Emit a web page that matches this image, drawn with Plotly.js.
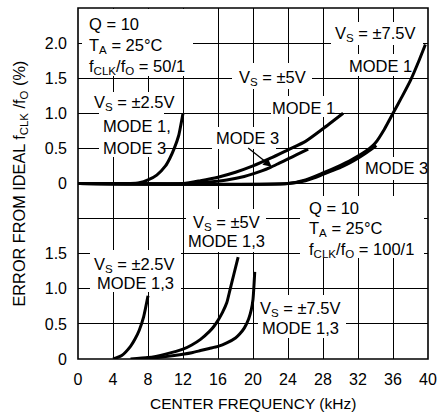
<!DOCTYPE html>
<html>
<head>
<meta charset="utf-8">
<script src="https://cdn.plot.ly/plotly-3.0.1.min.js"></script>
<style>
  html, body { margin: 0; padding: 0; background: #fff; }
  #chart { width: 439px; height: 417px; }
</style>
</head>
<body>
<div id="chart"></div>
<script>
// ---------- Data ----------
// Upper panel: fCLK/fO = 50/1, error (%) vs center frequency (kHz)
const vs25_50_x = [0, 6, 7, 8, 9, 10, 10.5, 11, 11.5, 12];
const vs25_50_y = [0, 0, 0.01, 0.05, 0.12, 0.25, 0.36, 0.5, 0.68, 1.0];

const vs5_m1_50_x = [0, 12, 14, 16, 18, 20, 22, 24, 26, 28, 30.3];
const vs5_m1_50_y = [0, 0, 0.04, 0.09, 0.16, 0.25, 0.36, 0.48, 0.6, 0.78, 1.0];

const vs5_m3_50_x = [0, 13, 15, 17, 19, 21, 22, 23, 24, 25, 26.3];
const vs5_m3_50_y = [0, 0, 0.02, 0.05, 0.1, 0.18, 0.23, 0.29, 0.35, 0.41, 0.49];

const vs75_m1_50_x = [0, 24, 26, 28, 30, 31, 32, 33, 34, 35, 36, 37, 38, 39, 39.7];
const vs75_m1_50_y = [0, 0, 0.05, 0.15, 0.26, 0.32, 0.39, 0.47, 0.58, 0.77, 1.0, 1.23, 1.47, 1.76, 1.98];

const vs75_m3_50_x = [0, 24, 26, 27, 28, 29, 30, 31, 32, 33, 34.1];
const vs75_m3_50_y = [0, 0, 0.04, 0.08, 0.13, 0.18, 0.23, 0.29, 0.36, 0.44, 0.54];

// Lower panel: fCLK/fO = 100/1
const vs25_100_x = [4, 5, 6, 6.5, 7, 7.5, 8];
const vs25_100_y = [0, 0.05, 0.18, 0.28, 0.41, 0.6, 0.9];

const vs5_100_x = [6, 8, 10, 12, 13, 14, 15, 15.5, 16, 16.5, 17, 17.4, 17.8, 18.3];
const vs5_100_y = [0, 0.02, 0.07, 0.14, 0.2, 0.28, 0.39, 0.46, 0.55, 0.66, 0.8, 1.0, 1.2, 1.45];

const vs75_100_x = [7, 9, 11, 13, 14, 15, 16, 17, 18, 18.5, 19, 19.5, 19.8, 20, 20.2];
const vs75_100_y = [0, 0.02, 0.05, 0.09, 0.12, 0.15, 0.18, 0.23, 0.3, 0.36, 0.44, 0.57, 0.7, 0.85, 1.24];

// Tick labels
const xTickVals = [0, 4, 8, 12, 16, 20, 24, 28, 32, 36, 40];
const xTickText = ['0', '4', '8', '12', '16', '20', '24', '28', '32', '36', '40'];
const yTickVals = [0, 0.5, 1, 1.5, 2, 2.5];
const yTopTickText = ['0', '0.5', '1.0', '1.5', '2.0', '2.5'];
const yBotTickText = ['0', '0.5', '1.0', '1.5', '', ''];

// ---------- Layout geometry ----------
const W = 439, H = 417;
const mL = 78, mR = 11, mT = 8, mB = 58;
const plotW = W - mL - mR;           // 350
const plotH = H - mT - mB;           // 351
const unit = plotH / 5;              // px per 1 % on y (70.2)
const ext = 3;                       // px of room below the upper panel's zero
const e = ext / unit;

// pixel helpers (for text placement only)
const X = px => (px - mL) / plotW * 40;
const zeroTop = mT + 2.5 * unit;          // 183.5
const zeroBot = mT + plotH;               // 359
const YT = py => (zeroTop - py) / unit;
const YB = py => (zeroBot - py) / unit;

const FAM = 'Liberation Sans, Arial, Helvetica, sans-serif';
const textFont = { family: FAM, size: 16.5, color: '#000' };
const tickFont = { family: FAM, size: 16, color: '#000' };

const lineStyle = { color: '#000', width: 3, shape: 'spline', smoothing: 0.6 };
function tr(x, y, yaxis) {
  return { x: x, y: y, xaxis: 'x', yaxis: yaxis, type: 'scatter', mode: 'lines',
           line: lineStyle, hoverinfo: 'skip', showlegend: false };
}

const data = [
  tr(vs25_50_x, vs25_50_y, 'y2'),
  tr(vs5_m1_50_x, vs5_m1_50_y, 'y2'),
  tr(vs5_m3_50_x, vs5_m3_50_y, 'y2'),
  tr(vs75_m1_50_x, vs75_m1_50_y, 'y2'),
  tr(vs75_m3_50_x, vs75_m3_50_y, 'y2'),
  tr(vs25_100_x, vs25_100_y, 'y'),
  tr(vs5_100_x, vs5_100_y, 'y'),
  tr(vs75_100_x, vs75_100_y, 'y')
];

// white masks behind the labels (hide the grid there), in pixel boxes; kept clear of the curves
function maskT(x0, x1, y0, y1) {
  return { type: 'rect', xref: 'x', yref: 'y2', x0: X(x0), x1: X(x1), y0: YT(y1), y1: YT(y0),
           fillcolor: '#fff', line: { width: 0 }, layer: 'above' };
}
function maskB(x0, x1, y0, y1) {
  return { type: 'rect', xref: 'x', yref: 'y', x0: X(x0), x1: X(x1), y0: YB(y1), y1: YB(y0),
           fillcolor: '#fff', line: { width: 0 }, layer: 'above' };
}
const shapes = [
  maskT(82, 193, 9, 76),
  maskT(88, 178, 92, 113),
  maskT(99, 164, 113, 157),
  maskT(232, 312, 63, 89),
  maskT(271, 334, 96, 117),
  maskT(212, 276, 127, 149),
  maskT(331, 423, 22, 45),
  maskT(348, 409, 54, 76),
  maskT(365, 426.5, 157, 180),
  maskB(90, 181, 250, 292),
  maskB(186, 266, 209, 252),
  maskB(300, 424, 196, 258),
  maskB(258, 346, 295, 338),
  // frame
  { type: 'rect', xref: 'paper', yref: 'paper', x0: 0, x1: 1, y0: 0, y1: 1,
    line: { color: '#000', width: 1.6 }, fillcolor: 'rgba(0,0,0,0)', layer: 'above' }
];

function lab(text, px, py, anchor, panel) {
  return { text: text, x: X(px), y: panel === 'top' ? YT(py) : YB(py),
           xref: 'x', yref: panel === 'top' ? 'y2' : 'y',
           xanchor: anchor, yanchor: 'middle', showarrow: false, font: textFont, borderpad: 0 };
}

const annotations = [
  lab('Q = 10', 88, 23.6, 'left', 'top'),
  lab('T<sub>A</sub> = 25°C', 88, 45.5, 'left', 'top'),
  lab('f<sub>CLK</sub>/f<sub>O</sub> = 50/1', 88, 66.5, 'left', 'top'),
  lab('V<sub>S</sub> = ±2.5V', 134, 103.1, 'center', 'top'),
  lab('MODE 1,', 101.7, 126, 'left', 'top'),
  lab('MODE 3', 101.7, 148.3, 'left', 'top'),
  lab('V<sub>S</sub> = ±5V', 272, 77.5, 'center', 'top'),
  lab('MODE 1', 303, 108.3, 'center', 'top'),
  lab('MODE 3', 215, 137.6, 'left', 'top'),
  lab('V<sub>S</sub> = ±7.5V', 375, 34.1, 'center', 'top'),
  lab('MODE 1', 380, 66, 'center', 'top'),
  lab('MODE 3', 396, 168.3, 'center', 'top'),
  lab('V<sub>S</sub> = ±2.5V', 134, 265.1, 'center', 'bot'),
  lab('MODE 1,3', 135, 282.6, 'center', 'bot'),
  lab('V<sub>S</sub> = ±5V', 226.7, 222.5, 'center', 'bot'),
  lab('MODE 1,3', 226.7, 241, 'center', 'bot'),
  lab('Q = 10', 308.3, 207.6, 'left', 'bot'),
  lab('T<sub>A</sub> = 25°C', 308.3, 229.1, 'left', 'bot'),
  lab('f<sub>CLK</sub>/f<sub>O</sub> = 100/1', 308.3, 249.8, 'left', 'bot'),
  lab('V<sub>S</sub> = ±7.5V', 300.8, 309.1, 'center', 'bot'),
  lab('MODE 1,3', 300.8, 327.6, 'center', 'bot'),
  // arrow from "MODE 3" to the ±5V mode 3 curve
  { text: '', x: X(271.7), y: YT(166.7), xref: 'x', yref: 'y2', showarrow: true,
    ax: -25, ay: -20, arrowhead: 2, arrowsize: 1.3, arrowwidth: 1.3, arrowcolor: '#000', standoff: 0 },
  // axis titles
  { text: 'ERROR FROM IDEAL f<sub>CLK</sub> /f<sub>O</sub> (%)', xref: 'paper', yref: 'paper',
    x: (19.5 - mL) / plotW, y: (mT + plotH - 184) / plotH, xanchor: 'center', yanchor: 'middle',
    textangle: -90, showarrow: false, font: { family: FAM, size: 16.3, color: '#000' } },
  { text: 'CENTER FREQUENCY (kHz)', xref: 'paper', yref: 'paper',
    x: 0.5, y: (mT + plotH - 403.5) / plotH, xanchor: 'center', yanchor: 'middle',
    showarrow: false, font: { family: FAM, size: 15.5, color: '#000' } }
];

const axCommon = { showgrid: true, gridcolor: '#000', gridwidth: 1, zeroline: false,
                   showline: false, ticks: '', tickfont: tickFont, fixedrange: true };

const layout = {
  width: W, height: H,
  margin: { l: mL, r: mR, t: mT, b: mB, pad: 0 },
  paper_bgcolor: '#fff', plot_bgcolor: 'rgba(0,0,0,0)',
  showlegend: false,
  xaxis: Object.assign({}, axCommon, {
    range: [0, 40], tickmode: 'array', tickvals: xTickVals, ticktext: xTickText,
    anchor: 'y', ticklabelstandoff: 9
  }),
  // lower panel: fCLK/fO = 100/1
  yaxis: Object.assign({}, axCommon, {
    domain: [0, 0.5], range: [0, 2.5], tickmode: 'array',
    tickvals: yTickVals, ticktext: yBotTickText, anchor: 'x', ticklabelstandoff: 10
  }),
  // upper panel: fCLK/fO = 50/1 (a little room below zero so the curves on zero are not cut)
  yaxis2: Object.assign({}, axCommon, {
    domain: [0.5 - ext / plotH, 1], range: [-e, 2.5], tickmode: 'array',
    tickvals: yTickVals, ticktext: yTopTickText, anchor: 'x', ticklabelstandoff: 10
  }),
  shapes: shapes,
  annotations: annotations
};

Plotly.newPlot('chart', data, layout, { displayModeBar: false });
</script>
</body>
</html>
